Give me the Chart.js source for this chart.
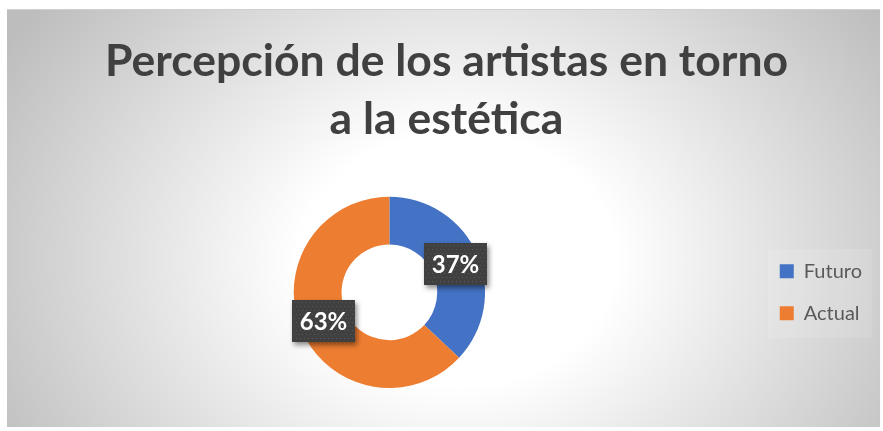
<!DOCTYPE html>
<html>
<head>
<meta charset="utf-8">
<script src="https://cdn.jsdelivr.net/npm/chart.js@4"></script>
<style>
  html, body { margin: 0; padding: 0; background: #ffffff; }
  #wrap {
    position: absolute; left: 7px; top: 9px;
    width: 873px; height: 417px;
    border-top: 1px solid #cfcfcf;
  }
</style>
</head>
<body>
<div id="wrap"><canvas id="chart"></canvas></div>
<script>
const categories = ['Futuro', 'Actual'];
const percentages = [37, 63];
const sliceColors = ['#4472C4', '#ED7D31'];
const titleLines = ['Percepción de los artistas en torno', 'a la estética'];

// radial grey-to-white backdrop like the office chart style
const backdrop = {
  id: 'backdrop',
  beforeDraw(chart) {
    const { ctx, width, height } = chart;
    ctx.save();
    ctx.translate(450, 250);
    ctx.scale(1.25, 1);
    const g = ctx.createRadialGradient(0, 0, 0, 0, 0, 420);
    g.addColorStop(0, '#ffffff');
    g.addColorStop(0.3, '#ffffff');
    g.addColorStop(1, '#bdbdbd');
    ctx.fillStyle = g;
    ctx.fillRect(-450 / 1.25, -250, width / 1.25, height);
    ctx.restore();

    // faint legend box
    ctx.save();
    ctx.fillStyle = 'rgba(255,255,255,0.12)';
    ctx.fillRect(761, 239, 104, 89);
    ctx.restore();
  }
};

// dark callout boxes with the percentage
const pctLabels = {
  id: 'pctLabels',
  afterDatasetsDraw(chart) {
    const { ctx } = chart;
    const meta = chart.getDatasetMeta(0);
    ctx.save();
    meta.data.forEach((arc, i) => {
      const p = arc.tooltipPosition();
      const w = 63, h = 42;
      const x = Math.round(p.x - w / 2), y = Math.round(p.y - h / 2);
      ctx.save();
      ctx.shadowColor = 'rgba(0,0,0,0.45)';
      ctx.shadowBlur = 5;
      ctx.shadowOffsetX = 2;
      ctx.shadowOffsetY = 3;
      ctx.fillStyle = '#404040';
      ctx.fillRect(x, y, w, h);
      ctx.restore();
      ctx.fillStyle = '#585858';
      for (let yy = y + 2; yy < y + h; yy += 4) {
        for (let xx = x + ((yy - y) % 8 === 2 ? 2 : 4); xx < x + w; xx += 4) {
          ctx.fillRect(xx, yy, 1, 1);
        }
      }
      ctx.fillStyle = '#ffffff';
      ctx.font = 'bold 24px Lato, "Open Sans", sans-serif';
      ctx.textAlign = 'center';
      ctx.textBaseline = 'middle';
      ctx.fillText(percentages[i] + '%', x + w / 2, y + h / 2 + 1);
    });
    ctx.restore();
  }
};

new Chart(document.getElementById('chart'), {
  type: 'doughnut',
  data: {
    labels: categories,
    datasets: [{
      data: percentages,
      backgroundColor: sliceColors,
      borderWidth: 0
    }]
  },
  options: {
    responsive: true,
    maintainAspectRatio: false,
    animation: false,
    cutout: '50%',
    layout: { padding: { left: 14, right: 8, top: 0, bottom: 39 } },
    plugins: {
      title: {
        display: true,
        text: titleLines,
        color: '#404040',
        font: { family: 'Lato, "Open Sans", sans-serif', size: 44.5, weight: 'bold', lineHeight: 1.3 },
        padding: { top: 23, bottom: 48 }
      },
      legend: {
        position: 'right',
        fullSize: false,
        labels: {
          color: '#595959',
          font: { family: 'Lato, "Open Sans", sans-serif', size: 20 },
          boxWidth: 14,
          boxHeight: 14,
          padding: 22
        }
      },
      tooltip: { enabled: false }
    }
  },
  plugins: [backdrop, pctLabels]
});
</script>
</body>
</html>
